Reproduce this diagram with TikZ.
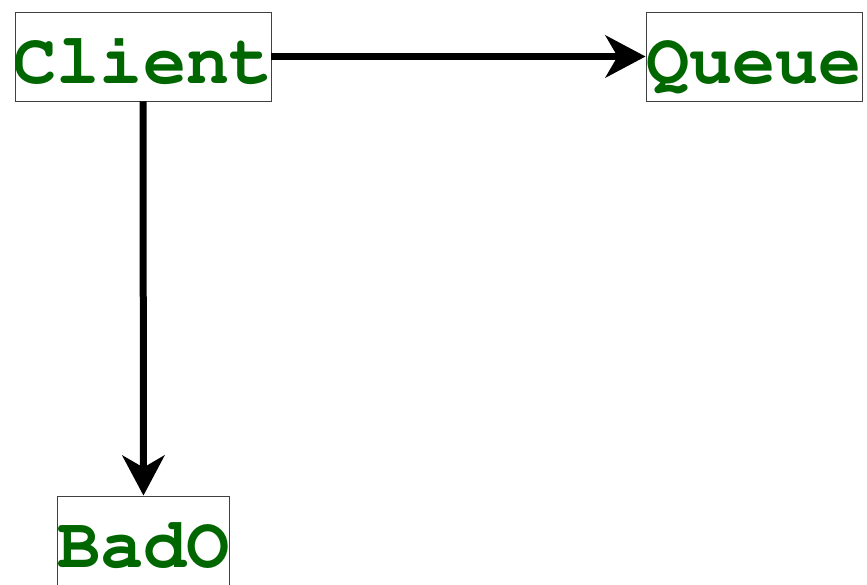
\documentclass[tikz,border=0pt]{standalone}
\usepackage[T1]{fontenc}
\usetikzlibrary{positioning,arrows.meta}
\definecolor{labelgreen}{RGB}{0,102,0}

\begin{document}
\begin{tikzpicture}[x=1pt, y=-1pt,
    box/.style={rectangle, draw=black!75, line width=0.9pt, fill=white, inner sep=0pt,
        minimum height=89pt, text height=60pt, text depth=7pt,
        font=\fontsize{72}{72}\fontfamily{pcr}\fontseries{b}\selectfont, text=labelgreen},
    link/.style={-{Stealth[length=40pt, width=42pt, inset=12pt]}, line width=7pt}]
    \useasboundingbox (0,0) rectangle (867,584);

    % Boxes
    \node[box, minimum width=256pt] (client) at (143,56.5) {\makebox[256pt]{Client}};
    \node[box, minimum width=214pt] (queue) at (754,56.5) {Queue};
    \node[box, minimum width=171pt] (bado) at (143.5,540.5) {BadO};

    % Links
    \draw[link] (client) -- (queue);
    \draw[link] (client) -- (bado);
\end{tikzpicture}
\end{document}
